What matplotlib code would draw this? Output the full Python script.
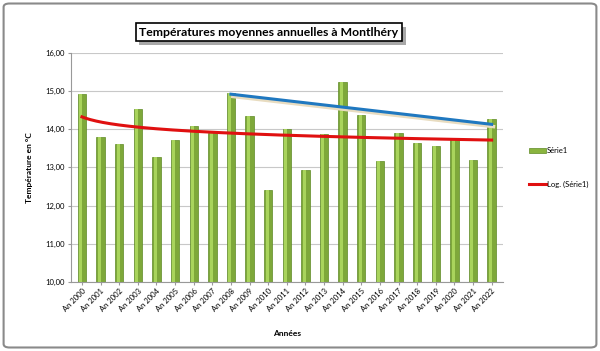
import numpy as np
import matplotlib.pyplot as plt
from matplotlib.patches import FancyBboxPatch, Rectangle, Patch
from matplotlib.lines import Line2D

# données
annees = list(range(2000, 2023))
labels = [f"An {a}" for a in annees]
temperatures = [14.93, 13.81, 13.61, 14.54, 13.28, 13.73, 14.08, 13.89, 14.95, 14.36,
                12.41, 14.00, 12.93, 13.87, 15.25, 14.38, 13.17, 13.89, 13.64, 13.55,
                13.74, 13.19, 14.28]
# ligne bleue tracée à la main (An 2008 -> An 2022)
ligne_idx = [8, 22]
ligne_val = [14.92, 14.13]

plt.rcParams['font.family'] = ['Lato', 'DejaVu Sans']

fig = plt.figure(figsize=(6, 3.51), dpi=100)
ax = fig.add_axes([0.118, 0.197, 0.72, 0.652])

x = np.arange(len(temperatures))
ax.bar(x, temperatures, width=0.45, bottom=0, color='#7ea83a', edgecolor='#5f8a25', linewidth=0.5, zorder=2)
ax.bar(x - 0.06, temperatures, width=0.16, color='#a9d45c', linewidth=0, zorder=3)

# tendance logarithmique (Excel: y = a*ln(x) + b)
coef = np.polyfit(np.log(x + 1), temperatures, 1)
xs = np.linspace(0, len(x) - 1, 200)
ax.plot(xs, np.polyval(coef, np.log(xs + 1)), color='#e01010', lw=2.2, zorder=4)

ax.plot(np.array(ligne_idx) + 0.1, np.array(ligne_val) - 0.06, color='#e8dcc0', lw=2.5, zorder=4)
ax.plot(ligne_idx, ligne_val, color='#1f78c0', lw=2.2, zorder=5)

ax.set_ylim(10, 16)
ax.set_xlim(-0.6, len(x) - 0.4)
ax.set_yticks(np.arange(10, 16.01, 1))
ax.set_yticklabels([f"{v:.2f}".replace('.', ',') for v in np.arange(10, 16.01, 1)], fontsize=5.5)
ax.set_xticks(x)
ax.set_xticklabels(labels, rotation=45, ha='right', rotation_mode='anchor', fontsize=5.5)
ax.tick_params(length=2, color='#999999', pad=2)
ax.grid(axis='y', color='#c8c8c8', lw=0.8, zorder=0)
for s in ['top', 'right']:
    ax.spines[s].set_visible(False)
ax.spines['left'].set_color('#999999')
ax.spines['bottom'].set_color('#999999')

ax.set_ylabel("Température en °C", fontsize=6, fontweight='bold', labelpad=9)
ax.set_xlabel("Années", fontsize=6, fontweight='bold', labelpad=12)

handles = [Patch(facecolor='#8ab43f', edgecolor='#5f8a25', lw=0.5),
           Line2D([0], [0], color='#e01010', lw=2.2)]
fig.legend(handles, ['Série1', 'Log. (Série1)'], loc='upper left', bbox_to_anchor=(0.87, 0.6),
           frameon=False, fontsize=5.5, handlelength=2.2, labelspacing=3.5, handletextpad=0.2)

# titre encadré avec ombre
titre = fig.text(0.448, 0.908, "Températures moyennes annuelles à Montlhéry", ha='center', va='center',
                 fontsize=8.8, fontweight='bold', zorder=3,
                 bbox=dict(boxstyle='square,pad=0.3', facecolor='white', edgecolor='black', lw=1.2))
fig.canvas.draw()
bb = titre.get_bbox_patch().get_window_extent().transformed(fig.transFigure.inverted())
fig.patches.append(Rectangle((bb.x0 + 0.006, bb.y0 - 0.01), bb.width, bb.height,
                             transform=fig.transFigure, facecolor='#a8a8a8',
                             edgecolor='none', zorder=1))

# cadre extérieur
fig.patches.append(FancyBboxPatch((0.006, 0.01), 0.988, 0.98, boxstyle='round,pad=0,rounding_size=0.01',
                                  transform=fig.transFigure, facecolor='none',
                                  edgecolor='#8a8a8a', lw=1.5))

fig.savefig('out.png', dpi=100)
